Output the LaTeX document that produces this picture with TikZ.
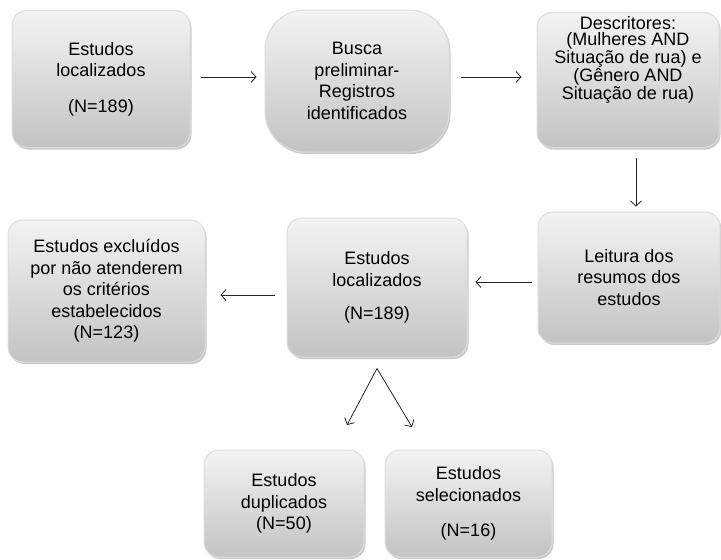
\documentclass[tikz,border=0pt]{standalone}
\usepackage{fontspec}
\setmainfont{Liberation Sans}
\usepackage{tikz}
\usetikzlibrary{positioning,arrows.meta,shadows,calc}
\definecolor{boxtop}{HTML}{F3F3F3}
\definecolor{boxbot}{HTML}{C3C3C3}
\definecolor{boxedge}{HTML}{DDDDDD}
\tikzset{
  flowarrow/.style={-{Straight Barb[length=5pt,width=11pt]}, line width=0.8pt, black!85},
  flowbox/.style={rounded corners=15pt, top color=boxtop, bottom color=boxbot, draw=boxedge, line width=1pt,
    drop shadow={shadow xshift=1.5pt, shadow yshift=-2pt, opacity=0.35, fill=black!60},
    align=center, inner sep=2pt, font=\fontsize{18}{21.5}\selectfont},
  roundbox/.style={flowbox, rounded corners=40pt},
  tightbox/.style={flowbox, font=\fontsize{18}{16.5}\selectfont}
}
\begin{document}
\begin{tikzpicture}[x=1pt, y=-1pt]
  \useasboundingbox[fill=white] (0,0) rectangle (721,560);
  \node[flowbox, minimum width=178pt, minimum height=137pt] (loc1) at (101,79) {Estudos\\localizados\\[14pt](N=189)};
  \node[roundbox, minimum width=184pt, minimum height=142pt] (busca) at (357,81) {Busca\\preliminar-\\Registros\\identificados};
  \node[tightbox, minimum width=182pt, minimum height=135pt] (descr) at (628,80) {Descritores:\\(Mulheres AND\\Situação de rua) e\\(Gênero AND\\Situação de rua)\\[28pt]\mbox{}};
  \node[flowbox, minimum width=182pt, minimum height=131pt] (leitura) at (629,277.5) {Leitura dos\\resumos dos\\estudos};
  \node[flowbox, minimum width=180pt, minimum height=139pt] (loc2) at (377,287.5) {Estudos\\localizados\\[12pt](N=189)};
  \node[flowbox, minimum width=197pt, minimum height=142pt] (exclu) at (106.5,291) {Estudos excluídos\\por não atenderem\\os critérios\\estabelecidos\\(N=123)};
  \node[flowbox, minimum width=160pt, minimum height=107pt] (dup) at (284,503.5) {Estudos\\duplicados\\(N=50)};
  \node[flowbox, minimum width=167pt, minimum height=107pt] (sel) at (468.5,503.5) {Estudos\\selecionados\\[14pt](N=16)};
  \coordinate (split) at ([yshift=-11pt]loc2.south);
  \coordinate (dupin) at (347,425);
  \coordinate (selin) at (412,427);
  \draw[flowarrow, shorten <=10pt, shorten >=8pt] ([yshift=2pt]loc1.east) -- ([yshift=2pt]loc1.east -| busca.west);
  \draw[flowarrow, shorten <=11pt, shorten >=15pt] ([yshift=2pt]loc1.east -| busca.east) -- ([yshift=2pt]loc1.east -| descr.west);
  \draw[flowarrow, shorten <=10pt, shorten >=5pt] ([xshift=8pt]descr.south) -- ([xshift=8pt]descr.south |- leitura.north);
  \draw[flowarrow, shorten <=6pt, shorten >=8pt] ([yshift=-4.5pt]leitura.west) -- ([yshift=-4.5pt]leitura.west -| loc2.east);
  \draw[flowarrow, shorten <=12pt, shorten >=15pt] ([yshift=-7.5pt]loc2.west) -- ([yshift=-7.5pt]loc2.west -| exclu.east);
  \draw[flowarrow] (split) -- (dupin);
  \draw[flowarrow] (split) -- (selin);
\end{tikzpicture}
\end{document}
